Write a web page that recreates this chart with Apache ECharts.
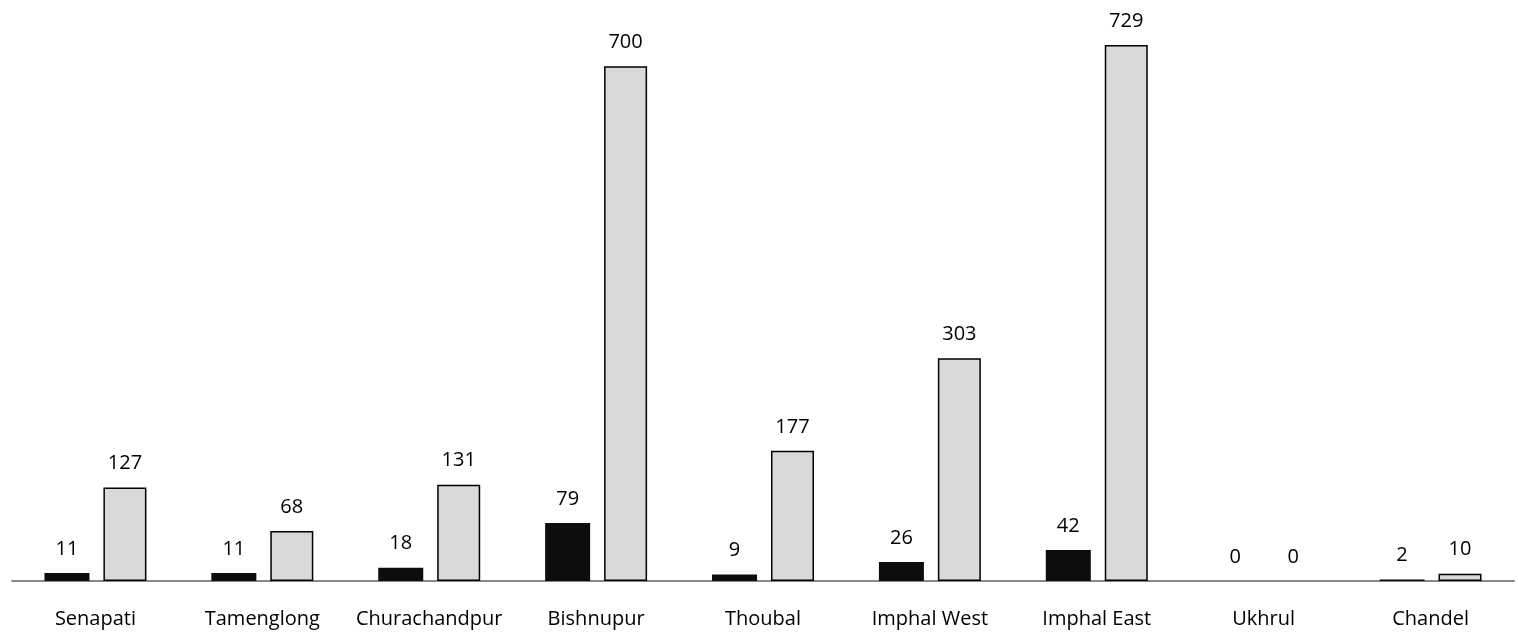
<!DOCTYPE html>
<html>
<head>
<meta charset="utf-8">
<script src="https://cdn.jsdelivr.net/npm/echarts@6/dist/echarts.min.js"></script>
<style>
  html, body { margin: 0; padding: 0; background: #fff; }
  #chart { width: 1518px; height: 638px; }
</style>
</head>
<body>
<div id="chart"></div>
<script>
const districts = ['Senapati', 'Tamenglong', 'Churachandpur', 'Bishnupur', 'Thoubal', 'Imphal West', 'Imphal East', 'Ukhrul', 'Chandel'];
const darkValues = [11, 11, 18, 79, 9, 26, 42, 0, 2];
const lightValues = [127, 68, 131, 700, 177, 303, 729, 0, 10];

const chart = echarts.init(document.getElementById('chart'));
const labelStyle = {
  show: true,
  position: 'top',
  distance: 14,
  color: '#000',
  fontSize: 20,
  fontFamily: 'Open Sans'
};
chart.setOption({
  animation: false,
  grid: { left: 12, right: 4, top: 45, bottom: 57 },
  xAxis: {
    type: 'category',
    data: districts,
    axisTick: { show: false },
    axisLine: { lineStyle: { color: '#888', width: 2 } },
    axisLabel: { interval: 0, color: '#000', fontSize: 20, fontFamily: 'Open Sans', margin: 28 }
  },
  yAxis: {
    type: 'value',
    min: 0,
    max: 729,
    show: false,
    splitLine: { show: false }
  },
  series: [
    {
      type: 'bar',
      data: darkValues,
      barWidth: 45,
      barGap: '31%',
      itemStyle: { color: '#0d0d0d' },
      label: labelStyle
    },
    {
      type: 'bar',
      data: lightValues.map(v => ({
        value: v,
        itemStyle: v === 0 ? { borderWidth: 0 } : undefined
      })),
      barWidth: 43,
      itemStyle: { color: '#d9d9d9', borderColor: '#000', borderWidth: 1.5 },
      label: labelStyle
    }
  ]
});
</script>
</body>
</html>
